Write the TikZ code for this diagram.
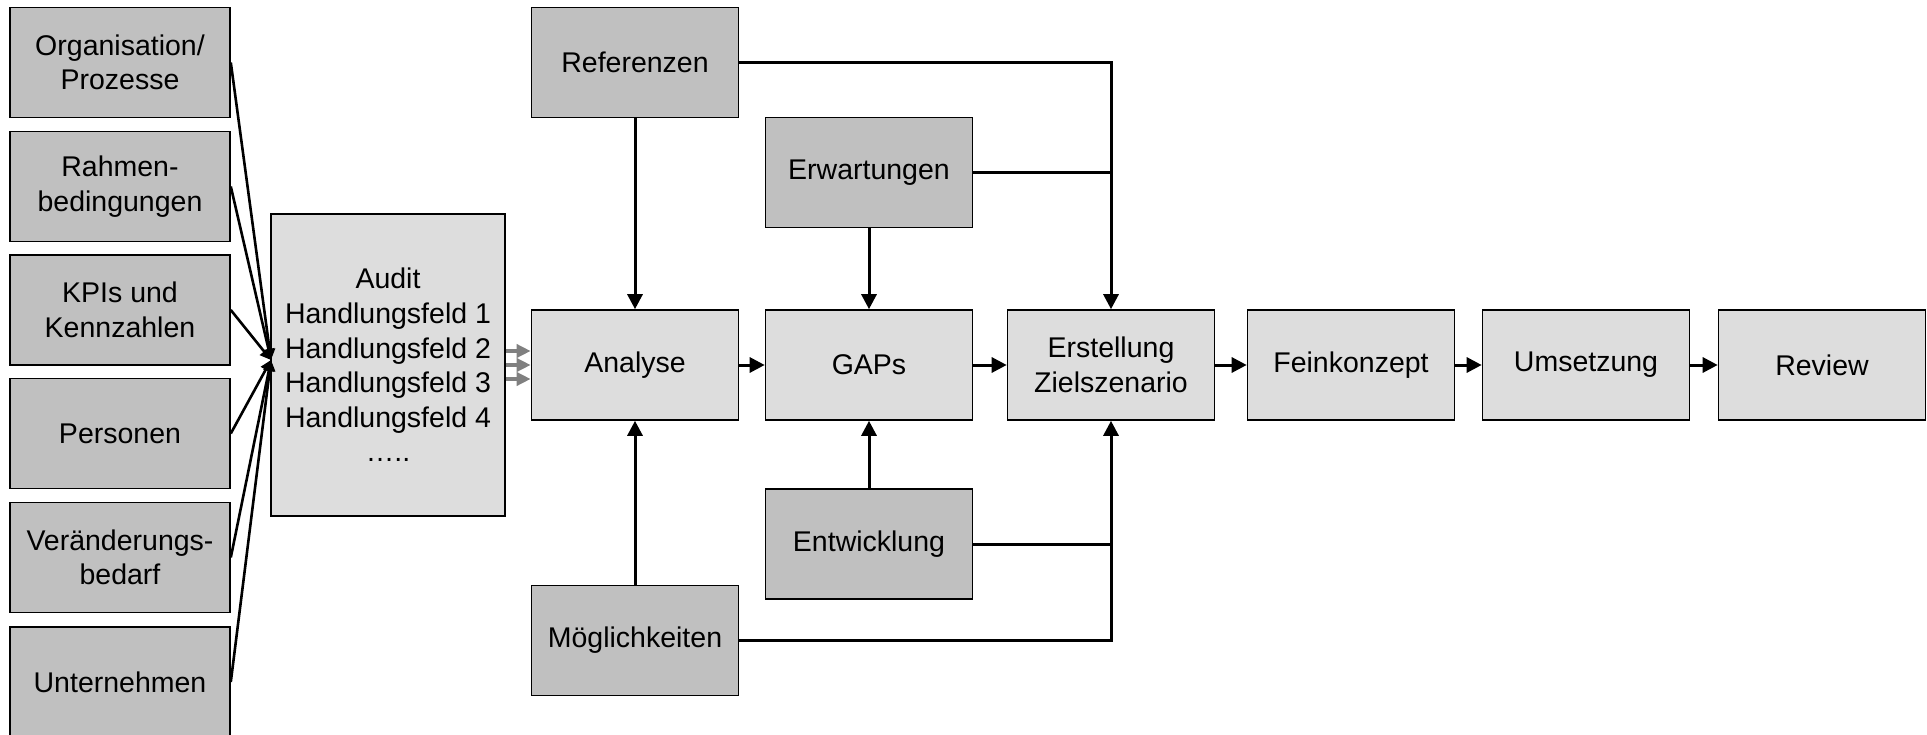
\documentclass[tikz,border=0pt]{standalone}
\usepackage{fontspec}
\setmainfont{Liberation Sans}
\usetikzlibrary{arrows.meta}
\definecolor{dark}{HTML}{C0C0C0}
\definecolor{light}{HTML}{DDDDDD}
\definecolor{garrow}{HTML}{808080}
\tikzset{
  base/.style={draw=black, line width=1.6pt, inner sep=0pt, align=center,
    font=\fontsize{28.5}{34.6}\selectfont},
  darkbox/.style={base, fill=dark, minimum width=220pt, minimum height=110pt},
  sidebox/.style={base, fill=dark, minimum width=207pt, minimum height=110pt},
  mainbox/.style={base, fill=light, minimum width=207pt, minimum height=110pt},
  conn/.style={line width=3pt, -{Triangle[length=15pt,width=15pt]}},
  plain/.style={line width=3pt},
  feed/.style={line width=2.6pt, -{Triangle[length=11pt,width=11pt]}},
  grey/.style={draw=garrow, line width=4pt, -{Triangle[length=14pt,width=13pt]}},
}
\begin{document}
\begin{tikzpicture}[x=1pt,y=-1pt]
\useasboundingbox (0,0) rectangle (1927,735);
% left column
\node[darkbox] (org) at (120,62.5) {Organisation/\\Prozesse};
\node[darkbox] (rah) at (120,186.5) {Rahmen-\\bedingungen};
\node[darkbox] (kpi) at (120,310) {KPIs und\\Kennzahlen};
\node[darkbox] (per) at (120,433.5) {Personen};
\node[darkbox] (ver) at (120,557.5) {Veränderungs-\\bedarf};
\node[darkbox] (unt) at (120,682) {Unternehmen};
% audit
\node[base, fill=light, minimum width=234pt, minimum height=302pt] (aud) at (388,365)
  {Audit\\Handlungsfeld 1\\Handlungsfeld 2\\Handlungsfeld 3\\Handlungsfeld 4\\…..};
\coordinate (in) at (271,360);
\foreach \n in {org,rah,kpi,per,ver,unt} \draw[feed] (\n.east) -- (in);
% main row
\node[mainbox] (ana) at (635,365) {Analyse};
\node[mainbox] (gap) at (869,365) {GAPs};
\node[mainbox] (ers) at (1111,365) {Erstellung\\Zielszenario};
\node[mainbox] (fei) at (1351,365) {Feinkonzept};
\node[mainbox] (ums) at (1586,365) {Umsetzung};
\node[mainbox] (rev) at (1822,365) {Review};
% side boxes
\node[sidebox] (ref) at (635,62.5) {Referenzen};
\node[sidebox] (erw) at (869,172.5) {Erwartungen};
\node[sidebox] (ent) at (869,544) {Entwicklung};
\node[sidebox] (moe) at (635,640.5) {Möglichkeiten};
% grey arrows audit -> analyse
\foreach \dy in {-14,0,14} \draw[grey] ([yshift=\dy pt]aud.east) -- ([yshift=\dy pt]ana.west);
% main flow
\draw[conn] (ana) -- (gap);
\draw[conn] (gap) -- (ers);
\draw[conn] (ers) -- (fei);
\draw[conn] (fei) -- (ums);
\draw[conn] (ums) -- (rev);
% verticals
\draw[conn] (ref) -- (ana);
\draw[conn] (moe) -- (ana);
\draw[conn] (erw) -- (gap);
\draw[conn] (ent) -- (gap);
\draw[conn] (ref.east) -| (ers.north);
\draw[conn] (moe.east) -| (ers.south);
\draw[plain] (erw.east) -- (erw.east -| ers.north);
\draw[plain] (ent.east) -- (ent.east -| ers.south);
\end{tikzpicture}
\end{document}
